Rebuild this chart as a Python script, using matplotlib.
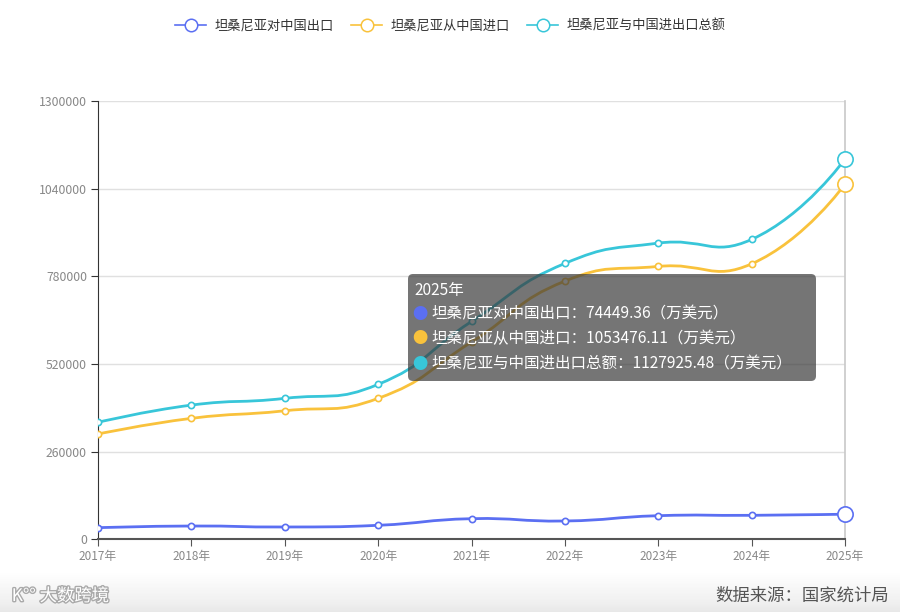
import numpy as np
import matplotlib
matplotlib.use("Agg")
import matplotlib.pyplot as plt
from matplotlib.path import Path
from matplotlib.patches import PathPatch, FancyBboxPatch
from matplotlib.lines import Line2D
import matplotlib.patheffects as pe

plt.rcParams['font.family'] = ['Noto Sans CJK SC', 'DejaVu Sans']

# data (万美元)
years = ['2017年', '2018年', '2019年', '2020年', '2021年', '2022年', '2023年', '2024年', '2025年']
export_cn = [34400, 39400, 36500, 41500, 61100, 54300, 70000, 71100, 74449.36]
import_cn = [312200, 358700, 381200, 418000, 585000, 765700, 809300, 817000, 1053476.11]
total_cn = [346900, 398000, 418000, 459500, 646000, 818200, 878400, 889400, 1127925.48]

series_names = ['坦桑尼亚对中国出口', '坦桑尼亚从中国进口', '坦桑尼亚与中国进出口总额']
colors = ['#5b6ff2', '#f9c23c', '#38c6d9']
yticks = [0, 260000, 520000, 780000, 1040000, 1300000]

fig = plt.figure(figsize=(9, 6.12), dpi=100)
ax = fig.add_axes([0.1089, 0.1188, 0.83, 0.7162])

x = np.arange(len(years))
ax.set_xlim(0, len(years) - 1)
ax.set_ylim(0, 1300000)


def smooth_path(xs, ys, smooth=0.5):
    # echarts-like bezier smoothing, done in pixel-ish space
    sx = 747 / (len(xs) - 1)
    sy = 439 / 1300000
    P = np.column_stack([np.asarray(xs, float) * sx, np.asarray(ys, float) * sy])
    n = len(P)
    cps = []
    for i in range(n):
        if i == 0 or i == n - 1:
            cps.append((P[i], P[i]))
            continue
        v = P[i + 1] - P[i - 1]
        d0 = np.linalg.norm(P[i] - P[i - 1])
        d1 = np.linalg.norm(P[i + 1] - P[i])
        r = d0 / (d0 + d1)
        cps.append((P[i] - v * smooth * r, P[i] + v * smooth * (1 - r)))
    verts = [P[0]]
    codes = [Path.MOVETO]
    for i in range(n - 1):
        verts += [cps[i][1], cps[i + 1][0], P[i + 1]]
        codes += [Path.CURVE4] * 3
    verts = np.array(verts)
    verts[:, 0] /= sx
    verts[:, 1] /= sy
    return Path(verts, codes)


for vals, c in zip([export_cn, import_cn, total_cn], colors):
    ax.add_patch(PathPatch(smooth_path(x, vals), facecolor='none', edgecolor=c, lw=2, zorder=3))
    ax.plot(x[:-1], vals[:-1], 'o', ms=4.5, mfc='white', mec=c, mew=1.2, zorder=4)
    ax.plot(x[-1:], vals[-1:], 'o', ms=11, mfc='white', mec=c, mew=1.2, zorder=4, clip_on=False)

# hover pointer line at 2025
ax.axvline(x[-1], color='#c8c8c8', lw=1.2, zorder=1, clip_on=False)

ax.set_yticks(yticks)
ax.set_yticklabels([str(v) for v in yticks])
ax.set_xticks(x)
ax.set_xticklabels(years)
ax.grid(axis='y', color='#e0e0e0', lw=1)
ax.set_axisbelow(True)
for s in ['top', 'right']:
    ax.spines[s].set_visible(False)
ax.spines['left'].set_color('#333333')
ax.spines['bottom'].set_color('#555555')
ax.spines['bottom'].set_linewidth(1.5)
ax.tick_params(axis='y', colors='#333333', labelcolor='#888888', labelsize=8.8, length=5, pad=3)
ax.tick_params(axis='x', colors='#555555', labelcolor='#888888', labelsize=8.5, length=5, pad=3)

# legend
handles = [Line2D([0], [0], color=c, lw=1.2, marker='o', ms=9, mfc='white', mec=c, mew=1.1)
           for c in colors]
leg = fig.legend(handles, series_names, loc='center', bbox_to_anchor=(0.5, 0.958), ncol=3,
                 frameon=False, fontsize=9.5, handlelength=2.4, columnspacing=1.3,
                 handletextpad=0.6)
for t in leg.get_texts():
    t.set_color('#333333')

# tooltip
tip = FancyBboxPatch((408, 612 - 381), 408, 107, boxstyle='round,pad=0,rounding_size=5',
                     transform=None, facecolor='#3a3a3a', edgecolor='none', alpha=0.7, zorder=10)
fig.patches.append(tip)
fig.text(414 / 900, 1 - 291 / 612, years[-1], color='white', fontsize=11.2, va='center', zorder=11)
tip_rows = [(series_names[0], export_cn[-1]), (series_names[1], import_cn[-1]),
            (series_names[2], total_cn[-1])]
for k, (name, val) in enumerate(tip_rows):
    yy = 1 - (314 + 25 * k) / 612
    fig.text(420 / 900, yy, '●', color=colors[k], fontsize=11, va='center', ha='center', zorder=11)
    fig.text(431 / 900, yy, f'{name}：{val:.2f}（万美元）', color='white', fontsize=11.2,
             va='center', zorder=11)

# footer band
band = fig.add_axes([0, 0, 1, 40 / 612], zorder=-1)
band.imshow(np.linspace(1, 0, 50).reshape(-1, 1), cmap='Greys_r', vmin=-5, vmax=1,
            aspect='auto', extent=[0, 1, 0, 1])
band.axis('off')
fig.text(0.988, 16 / 612, '数据来源：国家统计局', ha='right', va='center', fontsize=12.5,
         color='#555555')
fig.text(0.013, 16 / 612, 'K°° 大数跨境', ha='left', va='center', fontsize=12.5, color='white',
         path_effects=[pe.withStroke(linewidth=2, foreground='#aaaaaa')])

fig.savefig('out.png', dpi=100)
